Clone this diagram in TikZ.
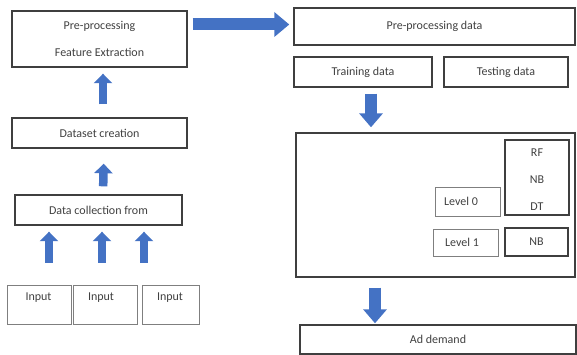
\documentclass[tikz,border=0pt]{standalone}
\usepackage{fontspec}
\setmainfont{Carlito}
\usetikzlibrary{arrows.meta}
\definecolor{ablue}{HTML}{4472C4}
\definecolor{edge}{HTML}{3F3F3F}
\definecolor{ltedge}{HTML}{7F7F7F}
\definecolor{txt}{HTML}{404040}
\begin{document}
\begin{tikzpicture}[x=1pt,y=-1pt,
  box/.style={draw=edge, line width=1.4pt, inner sep=0pt, text=txt,
    font=\fontsize{12}{14}\selectfont, align=center},
  lbox/.style={box, draw=ltedge, line width=0.9pt},
  lbl/.style={inner sep=0pt, text=txt, font=\fontsize{12}{14}\selectfont},
  uparr/.style={draw=ablue, line width=8.5pt, -{Triangle[width=18pt,length=9.5pt]}},
  bigarr/.style={draw=ablue, line width=12pt, -{Triangle[width=24pt,length=15pt]}},
  downarr/.style={draw=ablue, line width=11.5pt, -{Triangle[width=23pt,length=14pt]}}
]
\useasboundingbox (0,0) rectangle (577,355);

% left column
\node[box, minimum width=175pt, minimum height=56pt] (A) at (99.5,39) {Pre-processing\\[13pt]Feature Extraction};
\node[box, minimum width=175pt, minimum height=30pt] (C) at (99.5,133) {Dataset creation};
\node[box, minimum width=167pt, minimum height=30pt] (D) at (98.5,210) {Data collection from};
\node[lbox, minimum width=64pt, minimum height=39pt] (I1) at (39,304.5) {};
\node[lbox, minimum width=64pt, minimum height=39pt] (I2) at (105,304.5) {};
\node[lbox, minimum width=57pt, minimum height=39pt] (I3) at (170.5,304.5) {};
\node[lbl] (t1) at (38.5,298) {Input};
\node[lbl] (t2) at (101,298) {Input};
\node[lbl] (t3) at (170,298) {Input};

% right column
\node[box, minimum width=281pt, minimum height=37pt] (B) at (434.5,26.5) {Pre-processing data};
\node[box, minimum width=138pt, minimum height=30pt] (Tr) at (363,72) {Training data};
\node[box, minimum width=124pt, minimum height=30pt] (Te) at (506,72) {Testing data};
\node[box, minimum width=279pt, minimum height=144pt] (M) at (435.5,205) {};
\node[box, minimum width=64pt, minimum height=75pt] (R) at (537,177.5) {};
\node[lbl] (rf) at (537,153) {RF};
\node[lbl] (nb0) at (537,180) {NB};
\node[lbl] (dt) at (537,207) {DT};
\node[lbox, minimum width=65pt, minimum height=29pt] (L0) at (467.5,201.5) {};
\node[lbl] at (461,201.5) {Level 0};
\node[lbox, minimum width=65pt, minimum height=27pt] (L1) at (465.5,242.5) {};
\node[lbl] at (462,242.5) {Level 1};
\node[box, minimum width=63pt, minimum height=28pt] (N) at (536.5,242) {NB};
\node[box, minimum width=276pt, minimum height=29pt] (AD) at (438,339.5) {Ad demand};

% connectors
\draw[bigarr, shorten <=5pt, shorten >=4pt] ([yshift=2pt]A.east |- B.west) -- ([yshift=2pt]B.west);
\draw[uparr, shorten <=13pt, shorten >=6pt] ([xshift=3.5pt]C.north) -- ([xshift=3.5pt]A.south);
\draw[uparr, shorten <=8pt, shorten >=15pt] ([xshift=4.5pt]D.north) -- ([xshift=4.5pt]C.south);
\draw[uparr, shorten <=22pt, shorten >=6pt] (49,0 |- I1.north) -- (49,0 |- D.south);
\draw[uparr, shorten <=22pt, shorten >=6pt] (102,0 |- I2.north) -- (102,0 |- D.south);
\draw[uparr, shorten <=22pt, shorten >=6pt] (144,0 |- I3.north) -- (144,0 |- D.south);
\draw[downarr, shorten <=6pt, shorten >=5pt] ([xshift=8pt]Tr.south) -- ([xshift=8pt]Tr.south |- M.north);
\draw[downarr, shorten <=10pt, shorten >=1pt] (375,0 |- M.south) -- (375,0 |- AD.north);
\end{tikzpicture}
\end{document}
